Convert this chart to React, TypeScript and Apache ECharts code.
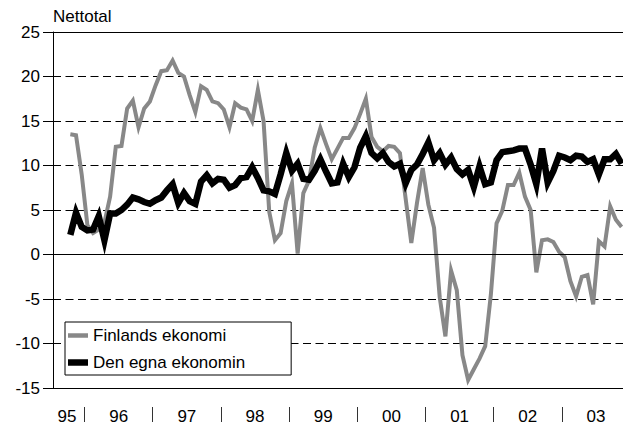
import { useEffect, useRef } from 'react';
import * as echarts from 'echarts';

const FONT = '"Liberation Sans", Arial, Helvetica, sans-serif';

// Month index counted from January 1995 (= 0); first observation is October 1995.
const FIRST_MONTH = 9;

const yearLabels = ['95', '96', '97', '98', '99', '00', '01', '02', '03'];
const yearLabelPositions = [8.9, 18, 30, 42, 54, 66, 78, 90, 102];
const yearBreaks = [12, 24, 36, 48, 60, 72, 84, 96];

const seriesNames = ['Finlands ekonomi', 'Den egna ekonomin'];

// Monthly values, Oct 1995 – Nov 2003
const finlandsEkonomi = [
  13.5, 13.4, 9.0,
  3.3, 2.4, 2.8, 3.6, 6.5, 12.1, 12.2, 16.4, 17.3, 14.3, 16.4, 17.2,
  19.0, 20.6, 20.7, 21.8, 20.4, 20.0, 17.9, 16.0, 18.9, 18.5, 17.2, 17.0,
  16.3, 14.3, 17.0, 16.5, 16.3, 15.0, 18.5, 15.0, 4.8, 1.6, 2.4, 6.0,
  8.0, 0.1, 6.9, 8.3, 12.0, 14.2, 12.4, 10.7, 11.9, 13.1, 13.1, 14.2,
  15.8, 17.5, 13.2, 12.1, 11.6, 12.2, 12.1, 11.4, 6.3, 1.3, 5.8, 9.7,
  5.6, 3.0, -4.8, -9.2, -1.8, -4.0, -11.3, -14.1, -12.9, -11.7, -10.3, -4.5,
  3.5, 4.9, 7.8, 7.8, 9.2, 6.5, 5.0, -2.0, 1.6, 1.7, 1.4, 0.3,
  -0.3, -3.0, -4.7, -2.5, -2.3, -5.6, 1.5, 0.9, 5.4, 3.9, 3.1,
];

const egnaEkonomin = [
  2.2, 4.7, 3.1,
  2.7, 2.8, 4.3, 1.6, 4.6, 4.6, 5.0, 5.6, 6.4, 6.2, 5.9, 5.7,
  6.1, 6.4, 7.2, 7.9, 5.8, 6.9, 6.0, 5.7, 8.2, 8.9, 8.0, 8.5,
  8.4, 7.5, 7.8, 8.6, 8.7, 9.8, 8.6, 7.2, 7.1, 6.8, 9.0, 11.4,
  9.4, 10.2, 8.5, 8.4, 9.4, 10.7, 9.3, 8.0, 8.1, 10.2, 8.7, 9.8,
  12.0, 13.3, 11.4, 10.8, 11.4, 10.4, 9.9, 10.2, 8.0, 9.5, 10.1, 11.3,
  12.6, 10.6, 11.4, 10.1, 10.9, 9.6, 9.0, 9.5, 7.6, 9.9, 7.9, 8.1,
  10.6, 11.5, 11.6, 11.7, 11.9, 11.9, 10.1, 7.9, 11.9, 8.1, 9.4, 11.1,
  10.9, 10.6, 11.1, 11.0, 10.4, 10.7, 9.0, 10.7, 10.7, 11.3, 10.2,
];

const Y_MIN = -15;
const Y_MAX = 25;
const Y_STEP = 5;
const X_MIN = 6.45;
const X_MAX = 106.75;

const toPoints = (values: number[]) =>
  values.map((v, i) => [FIRST_MONTH + i + 0.5, v]);

export default function App() {
  const ref = useRef<HTMLDivElement>(null);

  useEffect(() => {
    if (!ref.current) return;
    const chart = echarts.init(ref.current, undefined, { renderer: 'svg' });

    const yearFormatter = (v: number) => {
      const idx = yearLabelPositions.findIndex((p) => Math.abs(p - v) < 0.01);
      return idx >= 0 ? yearLabels[idx] : '';
    };

    chart.setOption({
      animation: false,
      backgroundColor: '#ffffff',
      textStyle: { fontFamily: FONT },
      title: {
        text: 'Nettotal',
        left: 53,
        top: 8,
        padding: 0,
        textStyle: { fontSize: 17, fontWeight: 'normal', color: '#000', fontFamily: FONT },
      },
      grid: { left: 53, right: 0, top: 32, bottom: 37, containLabel: false },
      legend: {
        left: 65,
        top: 322,
        orient: 'vertical',
        data: [
          { name: seriesNames[0], icon: 'path://M0,0H20V4.5H0Z' },
          { name: seriesNames[1], icon: 'path://M0,0H20V6.5H0Z' },
        ],
        itemWidth: 20,
        itemHeight: 14,
        itemGap: 10,
        symbolKeepAspect: true,
        padding: [5, 46, 4, 3],
        backgroundColor: '#ffffff',
        borderColor: '#000',
        borderWidth: 1,
        borderRadius: 0,
        textStyle: { fontSize: 17, color: '#000', fontFamily: FONT },
      },
      xAxis: [
        {
          type: 'value',
          min: X_MIN,
          max: X_MAX,
          position: 'bottom',
          axisLine: { show: true, onZero: false, lineStyle: { color: '#000', width: 1 } },
          axisTick: { show: false },
          splitLine: { show: false },
          axisLabel: {
            customValues: yearLabelPositions,
            formatter: yearFormatter,
            fontSize: 17,
            color: '#000',
            margin: 20,
            fontFamily: FONT,
          },
        },
        {
          type: 'value',
          min: X_MIN,
          max: X_MAX,
          position: 'bottom',
          offset: 19,
          axisLine: { show: false, onZero: false },
          axisTick: {
            show: true,
            customValues: yearBreaks,
            length: 15,
            lineStyle: { color: '#333', width: 1 },
          },
          axisLabel: { show: false },
          splitLine: { show: false },
        },
      ],
      yAxis: {
        type: 'value',
        min: Y_MIN,
        max: Y_MAX,
        interval: Y_STEP,
        axisLine: { show: true, onZero: false, lineStyle: { color: '#000', width: 1 } },
        axisTick: { show: true, length: 10, lineStyle: { color: '#000' } },
        axisLabel: { fontSize: 17, color: '#000', margin: 13, fontFamily: FONT },
        splitLine: { show: true, lineStyle: { color: '#000', type: [8, 4.5], width: 1 } },
      },
      series: [
        {
          name: '_frame',
          type: 'line',
          data: [],
          z: 1,
          silent: true,
          markLine: {
            silent: true,
            symbol: 'none',
            label: { show: false },
            lineStyle: { color: '#000', type: 'solid', width: 1 },
            data: [{ yAxis: 0 }, { yAxis: Y_MAX }],
          },
        },
        {
          name: seriesNames[0],
          type: 'line',
          data: toPoints(finlandsEkonomi),
          showSymbol: false,
          symbol: 'none',
          z: 2,
          itemStyle: { color: '#888888' },
          lineStyle: { color: '#888888', width: 4, join: 'miter', miterLimit: 6 },
        },
        {
          name: seriesNames[1],
          type: 'line',
          data: toPoints(egnaEkonomin),
          showSymbol: false,
          symbol: 'none',
          z: 3,
          itemStyle: { color: '#000000' },
          lineStyle: { color: '#000000', width: 6.5, join: 'miter', miterLimit: 6 },
        },
      ],
    });

    return () => chart.dispose();
  }, []);

  return (
    <div
      ref={ref}
      style={{ position: 'fixed', left: 0, top: 0, width: 623, height: 425, background: '#fff' }}
    />
  );
}
